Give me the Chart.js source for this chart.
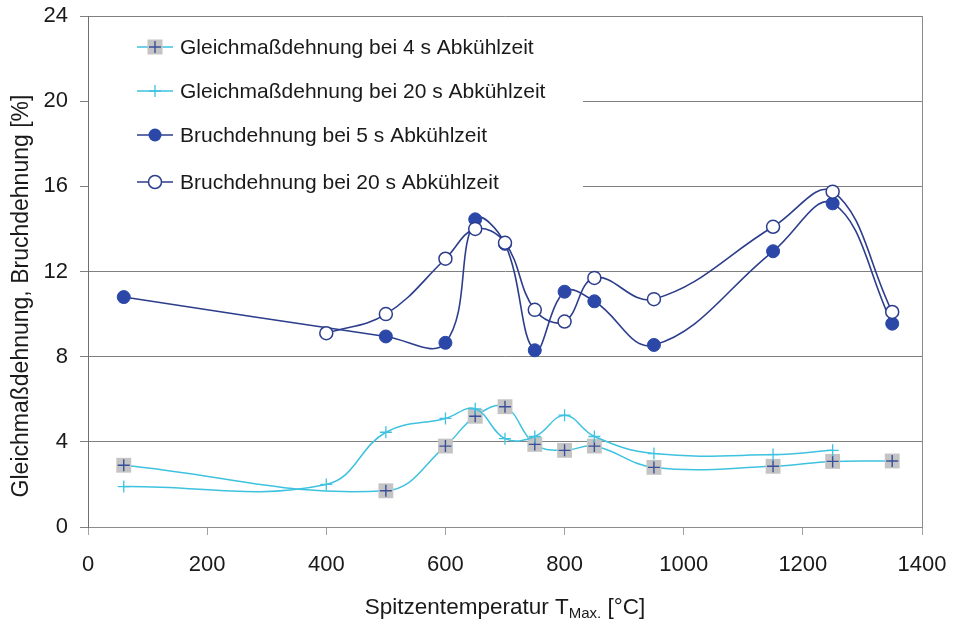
<!DOCTYPE html>
<html>
<head>
<meta charset="utf-8">
<script src="https://cdn.jsdelivr.net/npm/chart.js@4/dist/chart.umd.min.js"></script>
<style>
  html, body { margin: 0; padding: 0; background: #ffffff; }
  #wrap { width: 956px; height: 623px; position: relative; }
</style>
</head>
<body>
<div id="wrap"><canvas id="c" width="956" height="623"></canvas></div>
<script>
// ---- data ----
const tempGleich4 = [60, 500, 600, 650, 700, 750, 800, 850, 950, 1150, 1250, 1350];
const gleich4 = [2.9, 1.7, 3.8, 5.2, 5.65, 3.88, 3.6, 3.8, 2.8, 2.85, 3.08, 3.1];

const tempGleich20 = [60, 400, 500, 600, 650, 700, 750, 800, 850, 950, 1150, 1250];
const gleich20 = [1.9, 2.0, 4.45, 5.1, 5.55, 4.15, 4.25, 5.25, 4.25, 3.45, 3.4, 3.6];

const tempBruch5 = [60, 500, 600, 650, 700, 750, 800, 850, 950, 1150, 1250, 1350];
const bruch5 = [10.8, 8.95, 8.65, 14.45, 13.3, 8.3, 11.05, 10.6, 8.55, 12.95, 15.2, 9.55];

const tempBruch20 = [400, 500, 600, 650, 700, 750, 800, 850, 950, 1150, 1250, 1350];
const bruch20 = [9.1, 10.0, 12.6, 14.0, 13.35, 10.2, 9.65, 11.7, 10.7, 14.1, 15.75, 10.1];

const seriesNames = [
  'Gleichmaßdehnung bei 4 s Abkühlzeit',
  'Gleichmaßdehnung bei 20 s Abkühlzeit',
  'Bruchdehnung bei 5 s Abkühlzeit',
  'Bruchdehnung bei 20 s Abkühlzeit'
];
const xTicks = [0, 200, 400, 600, 800, 1000, 1200, 1400];
const yTicks = [0, 4, 8, 12, 16, 20, 24];
const yTitle = 'Gleichmaßdehnung, Bruchdehnung [%]';
const xTitleMain = 'Spitzentemperatur T';
const xTitleSub = 'Max.';
const xTitleEnd = ' [°C]';

// ---- styles ----
const NAVY = '#2c3d8c';
const BLUE_FILL = '#2b47a8';
const CYAN = '#3ec2df';
const GRAY_SQ = '#c4c4c4';
const FONT = '"Liberation Sans", Arial, sans-serif';

const pts = (xs, ys) => xs.map((x, i) => ({ x: x, y: ys[i] }));

const datasets = [
  { // open circles
    label: seriesNames[3], data: pts(tempBruch20, bruch20),
    borderColor: NAVY, borderWidth: 1.6, tension: 0.4,
    pointStyle: 'circle', pointRadius: 6.5, pointBackgroundColor: '#ffffff',
    pointBorderColor: NAVY, pointBorderWidth: 1.5, order: 0
  },
  { // filled circles
    label: seriesNames[2], data: pts(tempBruch5, bruch5),
    borderColor: NAVY, borderWidth: 1.6, tension: 0.4,
    pointStyle: 'circle', pointRadius: 6.5, pointBackgroundColor: BLUE_FILL,
    pointBorderColor: BLUE_FILL, pointBorderWidth: 1, order: 1
  },
  { // cyan plus
    label: seriesNames[1], data: pts(tempGleich20, gleich20),
    borderColor: CYAN, borderWidth: 1.5, tension: 0.4,
    pointStyle: 'cross', pointRadius: 6, pointBorderColor: CYAN,
    pointBorderWidth: 1.3, order: 2
  },
  { // dark plus over gray squares
    label: '_plus4', data: pts(tempGleich4, gleich4),
    showLine: false, pointStyle: 'cross', pointRadius: 6,
    pointBorderColor: '#3a4f9a', pointBorderWidth: 1.4, order: 3
  },
  { // gray squares with cyan line
    label: seriesNames[0], data: pts(tempGleich4, gleich4),
    borderColor: CYAN, borderWidth: 1.5, tension: 0.4,
    pointStyle: 'rect', pointRadius: 10.5, pointBackgroundColor: GRAY_SQ,
    pointBorderColor: GRAY_SQ, pointBorderWidth: 0, order: 4
  }
];

function drawMarker(ctx, kind, x, y) {
  ctx.save();
  if (kind === 0) {
    ctx.fillStyle = GRAY_SQ; ctx.fillRect(x - 7.5, y - 7.5, 15, 15);
    ctx.strokeStyle = '#3a4f9a'; ctx.lineWidth = 1.4;
    ctx.beginPath(); ctx.moveTo(x - 6, y); ctx.lineTo(x + 6, y);
    ctx.moveTo(x, y - 6); ctx.lineTo(x, y + 6); ctx.stroke();
  } else if (kind === 1) {
    ctx.strokeStyle = CYAN; ctx.lineWidth = 1.3;
    ctx.beginPath(); ctx.moveTo(x - 6, y); ctx.lineTo(x + 6, y);
    ctx.moveTo(x, y - 6); ctx.lineTo(x, y + 6); ctx.stroke();
  } else if (kind === 2) {
    ctx.fillStyle = BLUE_FILL; ctx.beginPath(); ctx.arc(x, y, 6.5, 0, Math.PI * 2); ctx.fill();
  } else {
    ctx.fillStyle = '#fff'; ctx.strokeStyle = NAVY; ctx.lineWidth = 1.5;
    ctx.beginPath(); ctx.arc(x, y, 6.5, 0, Math.PI * 2); ctx.fill(); ctx.stroke();
  }
  ctx.restore();
}

const customPlugin = {
  id: 'custom',
  beforeDatasetsDraw(chart) {
    const ctx = chart.ctx, a = chart.chartArea;
    ctx.save();
    // right border
    ctx.strokeStyle = '#8c8c8c'; ctx.lineWidth = 1;
    ctx.beginPath(); ctx.moveTo(Math.round(a.right) + 0.5, a.top); ctx.lineTo(Math.round(a.right) + 0.5, a.bottom); ctx.stroke();
    // legend background
    ctx.fillStyle = '#ffffff';
    ctx.fillRect(a.left + 1, 22, 583 - a.left - 1, 178);
    ctx.restore();
  },
  afterDatasetsDraw(chart) {
    const ctx = chart.ctx;
    const rows = [47, 91, 135, 182];
    const lineCols = [CYAN, CYAN, NAVY, NAVY];
    ctx.save();
    rows.forEach((y, i) => {
      ctx.strokeStyle = lineCols[i]; ctx.lineWidth = 1.5;
      ctx.beginPath(); ctx.moveTo(137, y); ctx.lineTo(173, y); ctx.stroke();
      drawMarker(ctx, i, 155, y);
      ctx.fillStyle = '#1a1a1a';
      ctx.font = '21px ' + FONT;
      ctx.textBaseline = 'middle'; ctx.textAlign = 'left';
      ctx.fillText(seriesNames[i], 180, y + 1);
    });
    // y title
    ctx.save();
    ctx.translate(22, 296);
    ctx.rotate(-Math.PI / 2);
    ctx.font = '23px ' + FONT; ctx.textAlign = 'center'; ctx.textBaseline = 'middle';
    ctx.fillStyle = '#1a1a1a';
    ctx.fillText(yTitle, 0, 0);
    ctx.restore();
    // x title with subscript
    const big = '22.5px ' + FONT, small = '15px ' + FONT;
    ctx.font = big; const w1 = ctx.measureText(xTitleMain).width; const w3 = ctx.measureText(xTitleEnd).width;
    ctx.font = small; const w2 = ctx.measureText(xTitleSub).width;
    let x = 505 - (w1 + w2 + w3) / 2; const by = 614;
    ctx.fillStyle = '#1a1a1a'; ctx.textBaseline = 'alphabetic'; ctx.textAlign = 'left';
    ctx.font = big; ctx.fillText(xTitleMain, x, by); x += w1;
    ctx.font = small; ctx.fillText(xTitleSub, x, by + 4); x += w2;
    ctx.font = big; ctx.fillText(xTitleEnd, x, by);
    ctx.restore();
  }
};

new Chart(document.getElementById('c'), {
  type: 'line',
  data: { datasets: datasets },
  options: {
    responsive: false,
    animation: false,
    layout: { padding: { top: 16, right: 34, left: 0, bottom: 0 } },
    plugins: { legend: { display: false }, tooltip: { enabled: false } },
    scales: {
      x: {
        type: 'linear', min: 0, max: 1400,
        afterFit: s => { s.height = 96; s.paddingLeft = 0; s.paddingRight = 0; },
        afterBuildTicks: s => { s.ticks = xTicks.map(v => ({ value: v })); },
        ticks: { color: '#1a1a1a', font: { family: FONT, size: 22 }, padding: 17, maxRotation: 0,
                 callback: v => String(v) },
        grid: { drawOnChartArea: false, drawTicks: true, tickLength: 8, color: '#a0a0a0' },
        border: { color: '#8c8c8c', width: 1 }
      },
      y: {
        type: 'linear', min: 0, max: 24,
        afterFit: s => { s.width = 88; s.paddingTop = 0; s.paddingBottom = 0; },
        afterBuildTicks: s => { s.ticks = yTicks.map(v => ({ value: v })); },
        ticks: { color: '#1a1a1a', font: { family: FONT, size: 22 }, padding: 12,
                 callback: v => String(v) },
        grid: { color: '#808080', lineWidth: 1, drawTicks: true, tickLength: 8 },
        border: { color: '#707070', width: 1 }
      }
    }
  },
  plugins: [customPlugin]
});
</script>
</body>
</html>
